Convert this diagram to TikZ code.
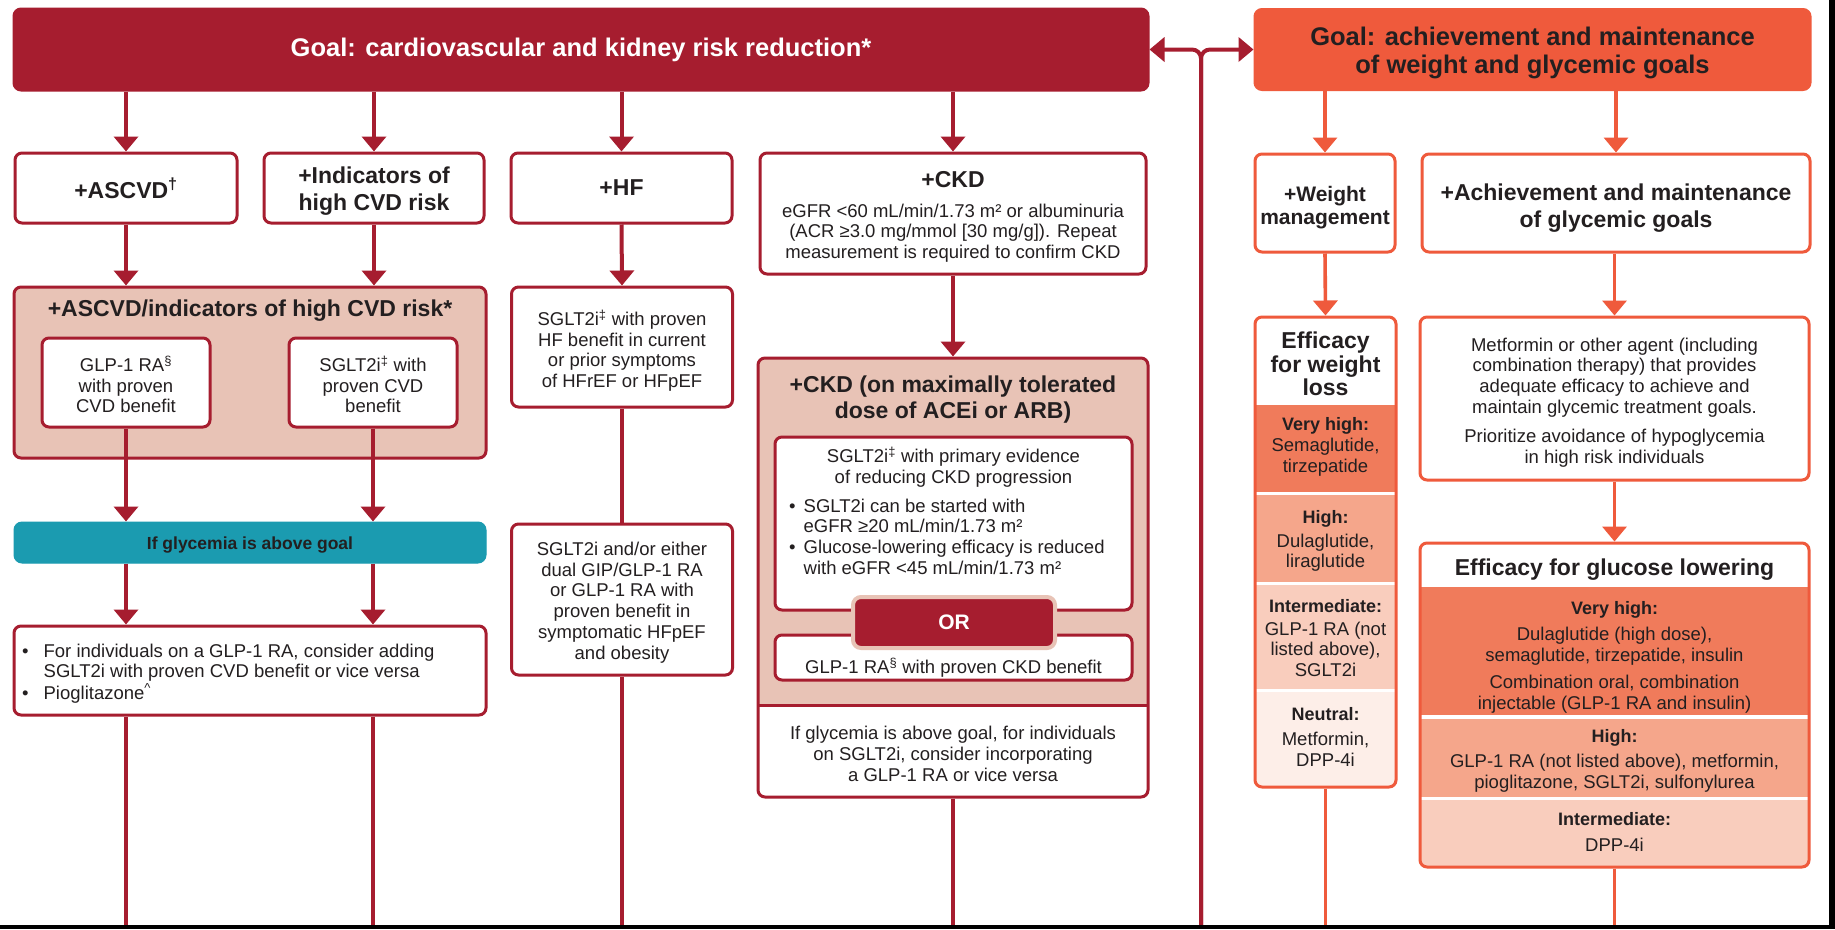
\documentclass[tikz,border=0pt]{standalone}
\usepackage{fontspec}
\setmainfont{Liberation Sans}
\usetikzlibrary{arrows.meta}

\definecolor{dred}{HTML}{A61D2F}
\definecolor{orng}{HTML}{EF5A3C}
\definecolor{ink}{HTML}{231F20}
\definecolor{pinkc}{HTML}{E8C3B6}
\definecolor{tealc}{HTML}{1B9BB0}
\definecolor{lvA}{HTML}{F07B5B}
\definecolor{lvB}{HTML}{F5A68B}
\definecolor{lvC}{HTML}{F9CDBD}
\definecolor{lvD}{HTML}{FDEEE8}

\newcommand\fbody{\fontsize{18.5}{20.7}\selectfont}
\newcommand\fhead{\bfseries\fontsize{23}{26}\selectfont}
\newcommand\fheadw{\bfseries\fontsize{23}{27}\selectfont}
\newcommand\fheadt{\bfseries\fontsize{23}{23.5}\selectfont}
\newcommand\ftitle{\bfseries\fontsize{25.5}{28}\selectfont}
\newcommand\flab{\bfseries\fontsize{18}{20.7}\selectfont}

\begin{document}
\begin{tikzpicture}[x=1pt,y=-1pt,
  box/.style={draw=dred, line width=3pt, rounded corners=7pt, fill=white,
              inner sep=0pt, align=center, text=ink, font=\fbody},
  obox/.style={box, draw=orng},
  txt/.style={inner sep=0pt, align=center, text=ink, font=\fbody},
  tip/.style={-{Triangle[length=15pt,width=24pt]}},
  ln/.style={draw=dred, line width=4pt},
  oln/.style={draw=orng, line width=3.6pt},
  arr/.style={ln, tip},
  oarr/.style={oln, tip},
]
\useasboundingbox (0,0) rectangle (1835,929);
\fill[white] (0,0) rectangle (1835,929);

% ---------- goals ----------
\node[box, fill=dred, text=white, font=\ftitle, minimum width=1134pt, minimum height=81pt]
  (goalL) at (581,49.5) {Goal: cardiovascular and kidney risk reduction*};
\node[box, fill=orng, draw=orng, minimum width=555pt, minimum height=80pt] (goalR) at (1532.5,49.5) {};
\node[txt, font=\ftitle] (goalRt) at ([yshift=-3pt]goalR.center) {Goal: achievement and maintenance\\of weight and glycemic goals};

% two-way link between the goals
\coordinate (jn) at (1201,925);
\draw[ln, tip, rounded corners=9pt] (jn) |- (goalL.east);
\draw[ln, tip, rounded corners=9pt] (jn) |- (goalR.west);

% ---------- first row (cardiorenal) ----------
\node[box, font=\fhead, minimum width=222pt, minimum height=70pt] (ascvd) at (126,188) {+ASCVD\textsuperscript{†}};
\node[box, minimum width=220pt, minimum height=70pt] (indic) at (374,188) {};
\node[txt, font=\fheadw] (indict) at ([yshift=-3pt]indic.center) {+Indicators of\\high CVD risk};
\node[box, font=\fhead, minimum width=221pt, minimum height=70pt] (hf) at (621.5,188) {+HF};
\node[box, minimum width=386pt, minimum height=121pt] (ckd) at (953,213.5) {};
\node[txt] (ckdt) at ([yshift=-3.5pt]ckd.center)
  {{\fhead +CKD}\\[9pt]eGFR <60 mL/min/1.73 m² or albuminuria\\(ACR ≥3.0 mg/mmol [30 mg/g]). Repeat\\measurement is required to confirm CKD};

\draw[arr] (goalL.south -| ascvd.north) -- (ascvd.north);
\draw[arr] (goalL.south -| indic.north) -- (indic.north);
\draw[arr] (goalL.south -| hf.north) -- (hf.north);
\draw[arr] (goalL.south -| ckd.north) -- (ckd.north);

% ---------- ASCVD / high CVD risk group ----------
\node[box, fill=pinkc, minimum width=472pt, minimum height=171pt] (cvdgrp) at (250,372.5) {};
\node[txt, font=\fhead] (cvdtitle) at (250,311) {+ASCVD/indicators of high CVD risk*};
\node[box, minimum width=168pt, minimum height=89pt] (glp) at (126,382.5) {};
\node[txt] (glpt) at ([yshift=-2pt]glp.center) {GLP-1 RA\textsuperscript{§}\\with proven\\CVD benefit};
\node[box, minimum width=168pt, minimum height=89pt] (sglt) at (373,382.5) {};
\node[txt] (sgltt) at ([yshift=-2pt]sglt.center) {SGLT2i\textsuperscript{‡} with\\proven CVD\\benefit};

\draw[arr] (ascvd.south) -- (ascvd.south |- cvdgrp.north);
\draw[arr] (indic.south) -- (indic.south |- cvdgrp.north);

\node[box, draw=tealc, fill=tealc, line width=1pt, rounded corners=8pt, minimum width=472pt, minimum height=41pt]
  (teal) at (250,542.5) {};
\node[txt, font=\bfseries\fontsize{17.5}{20}\selectfont] (tealt) at ([yshift=-3pt]teal.center) {If glycemia is above goal};

\draw[arr] (glp.south) -- (glp.south |- teal.north);
\draw[arr] (sglt.south) -- (sglt.south |- teal.north);

\node[box, minimum width=472pt, minimum height=89pt] (bullets) at (250,670.5) {};
\node[txt, anchor=west, align=left] (bultxt) at (22,674)
  {\begin{tabular}{@{}l@{\hspace{15pt}}l@{}}
   •&For individuals on a GLP-1 RA, consider adding\\
    &SGLT2i with proven CVD benefit or vice versa\\
   •&Pioglitazone\textsuperscript{\textasciicircum}
   \end{tabular}};

\draw[arr] (teal.south -| glp.south) -- (bullets.north -| glp.south);
\draw[arr] (teal.south -| sglt.south) -- (bullets.north -| sglt.south);

\coordinate (e1) at (126,925);
\coordinate (e2) at (373,925);
\draw[ln] (bullets.south -| e1) -- (e1);
\draw[ln] (bullets.south -| e2) -- (e2);

% ---------- heart failure ----------
\node[box, minimum width=221pt, minimum height=120pt] (hfsglt) at (622,347) {};
\node[txt] (hfsgltt) at ([yshift=-3.5pt]hfsglt.center)
  {SGLT2i\textsuperscript{‡} with proven\\HF benefit in current\\or prior symptoms\\of HFrEF or HFpEF};
\node[box, minimum width=221pt, minimum height=151pt] (hfdual) at (622,599.5) {};
\node[txt] (hfdualt) at ([yshift=-3pt]hfdual.center)
  {SGLT2i and/or either\\dual GIP/GLP-1 RA\\or GLP-1 RA with\\proven benefit in\\symptomatic HFpEF\\and obesity};
\draw[arr] (hf.south) -- (hfsglt.north);
\draw[ln] (hfsglt.south) -- (hfdual.north);
\coordinate (e3) at (622,925);
\draw[ln] (hfdual.south) -- (e3);

% ---------- CKD group ----------
\begin{scope}
  \clip[rounded corners=7pt] (758,358) rectangle (1148,797);
  \fill[pinkc] (758,358) rectangle (1148,705);
\end{scope}
\node[box, fill=none, minimum width=390pt, minimum height=439pt] (ckdgrp) at (953,577.5) {};
\draw[dred, line width=3pt] (758,705) -- (1148,705);
\node[txt, font=\fhead, text=ink] (ckdtitle) at (953,400)
  {+CKD (on maximally tolerated\\dose of ACEi or ARB)};

\node[box, minimum width=357pt, minimum height=173pt] (ckdsg) at (953.5,523.5) {};
\node[txt] (ckdsgt) at (953.5,467) {SGLT2i\textsuperscript{‡} with primary evidence\\of reducing CKD progression};
\node[txt, anchor=west, align=left] (ckdbul) at (789,539)
  {\begin{tabular}{@{}l@{\hspace{8pt}}l@{}}
   •&SGLT2i can be started with\\
    &eGFR ≥20 mL/min/1.73 m²\\
   •&Glucose-lowering efficacy is reduced\\
    &with eGFR <45 mL/min/1.73 m²
   \end{tabular}};

\node[box, minimum width=357pt, minimum height=45pt] (ckdglp) at (953.5,657.5) {};
\node[txt] (ckdglpt) at (953.5,668) {GLP-1 RA\textsuperscript{§} with proven CKD benefit};

\node[draw=pinkc, line width=4pt, fill=dred, rounded corners=8pt, minimum width=202pt, minimum height=51pt,
  inner sep=0pt, text=white, font=\bfseries\fontsize{21}{24}\selectfont] (orbox) at (954,622.5) {OR};

\node[txt] (ckdif) at (953,754)
  {If glycemia is above goal, for individuals\\on SGLT2i, consider incorporating\\a GLP-1 RA or vice versa};

\draw[arr] (ckd.south) -- (ckdgrp.north);
\coordinate (e4) at (953,925);
\draw[ln] (ckdgrp.south) -- (e4);

% ---------- weight and glycemia ----------
\node[obox, minimum width=140pt, minimum height=98pt] (weight) at (1325,203) {};
\node[txt, font=\bfseries\fontsize{21}{23}\selectfont] (weightt) at ([yshift=-5pt]weight.center) {+Weight\\management};
\node[obox, minimum width=388pt, minimum height=98pt] (glyc) at (1616,203) {};
\node[txt, font=\fheadw] (glyct) at ([yshift=-5pt]glyc.center) {+Achievement and maintenance\\of glycemic goals};
\draw[oarr] (goalR.south -| weight.north) -- (weight.north);
\draw[oarr] (goalR.south -| glyc.north) -- (glyc.north);

% weight-loss efficacy ladder
\begin{scope}
  \clip[rounded corners=7pt] (1255,317) rectangle (1396,787);
  \fill[white] (1255,317) rectangle (1396,787);
  \fill[lvA] (1255,405) rectangle (1396,492);
  \fill[lvB] (1255,495) rectangle (1396,582);
  \fill[lvC] (1255,585) rectangle (1396,689);
  \fill[lvD] (1255,692) rectangle (1396,787);
\end{scope}
\node[obox, fill=none, minimum width=141pt, minimum height=470pt] (weff) at (1325.5,552) {};
\node[txt, font=\fheadt] (weffh) at (1325.5,364) {Efficacy\\for weight\\loss};
\node[txt] (wA) at (1325.5,447) {{\flab Very high:}\\Semaglutide,\\tirzepatide};
\node[txt] (wB) at (1325.5,541) {{\flab High:}\\[3pt]Dulaglutide,\\liraglutide};
\node[txt] (wC) at (1325.5,638) {{\flab Intermediate:}\\[2pt]GLP-1 RA (not\\listed above),\\SGLT2i};
\node[txt] (wD) at (1325.5,737) {{\flab Neutral:}\\[4pt]Metformin,\\DPP-4i};
\draw[oarr] (weight.south) -- (weff.north);
\coordinate (e5) at (1325.5,925);
\draw[oln] (weff.south) -- (e5);

% glycemic pathway
\node[obox, minimum width=389pt, minimum height=163pt] (metf) at (1614.5,398.5) {};
\node[txt] (metft) at ([yshift=-4pt]metf.center)
  {Metformin or other agent (including\\combination therapy) that provides\\adequate efficacy to achieve and\\maintain glycemic treatment goals.\\[9pt]Prioritize avoidance of hypoglycemia\\in high risk individuals};
\draw[oarr] (glyc.south -| metf.north) -- (metf.north);

\begin{scope}
  \clip[rounded corners=7pt] (1420,543) rectangle (1809,867);
  \fill[white] (1420,543) rectangle (1809,867);
  \fill[lvA] (1420,587) rectangle (1809,715);
  \fill[lvB] (1420,719) rectangle (1809,797);
  \fill[lvC] (1420,800) rectangle (1809,867);
\end{scope}
\node[obox, fill=none, minimum width=389pt, minimum height=324pt] (geff) at (1614.5,705) {};
\node[txt, font=\fhead] (geffh) at (1614.5,570) {Efficacy for glucose lowering};
\node[txt] (gA) at (1614.5,657)
  {{\flab Very high:}\\[6pt]Dulaglutide (high dose),\\semaglutide, tirzepatide, insulin\\[6pt]Combination oral, combination\\injectable (GLP-1 RA and insulin)};
\node[txt] (gB) at (1614.5,761)
  {{\flab High:}\\[4pt]GLP-1 RA (not listed above), metformin,\\pioglitazone, SGLT2i, sulfonylurea};
\node[txt] (gC) at (1614.5,832) {{\flab Intermediate:}\\[6pt]DPP-4i};
\draw[oarr] (metf.south) -- (geff.north);
\coordinate (e6) at (1614.5,925);
\draw[oln] (geff.south) -- (e6);

% page edge rules
\fill[black] (0,925) rectangle (1835,929);
\fill[black] (1829,0) rectangle (1835,929);
\end{tikzpicture}
\end{document}
